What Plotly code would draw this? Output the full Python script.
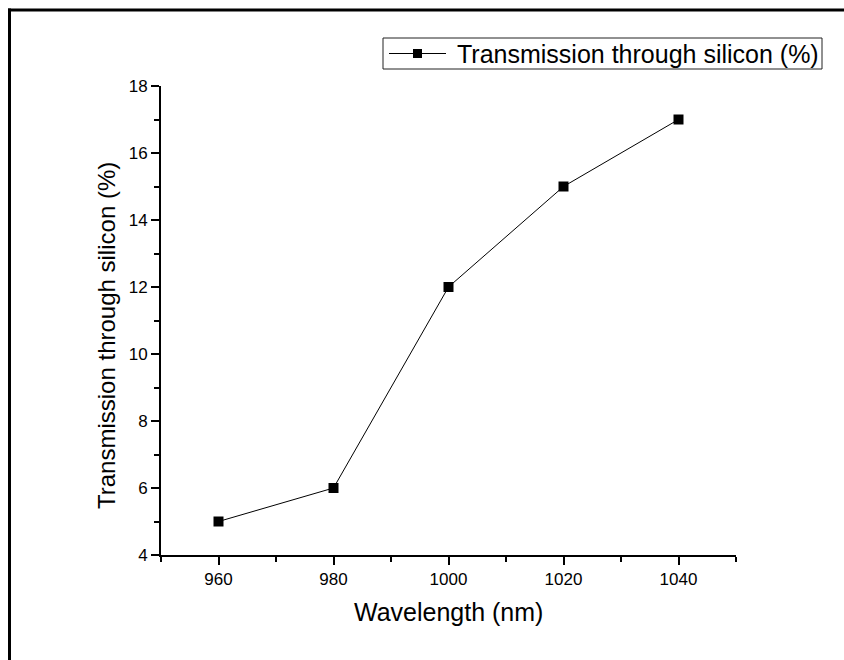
import plotly.graph_objects as go

# Measured transmission of light through a silicon wafer
wavelength_nm = [960, 980, 1000, 1020, 1040]
transmission_pct = [5, 6, 12, 15, 17]
series_name = "Transmission through silicon (%)"
x_title = "Wavelength (nm)"
y_title = "Transmission through silicon (%)"
x_ticks = [960, 980, 1000, 1020, 1040]
y_ticks = [4, 6, 8, 10, 12, 14, 16, 18]

FONT = "Liberation Sans, Arial, sans-serif"

# Plot area geometry (pixels)
W, H = 844, 660
L, R, T, B = 161, 108, 86, 105
pw, ph = W - L - R, H - T - B


def px_x(p):
    return (p - L) / pw


def px_y(p):
    return (H - B - p) / ph


fig = go.Figure()
fig.add_trace(go.Scatter(
    x=wavelength_nm,
    y=transmission_pct,
    mode="lines+markers",
    name=series_name,
    showlegend=False,
    line=dict(color="black", width=1),
    marker=dict(symbol="square", size=10, color="black"),
))

axis_common = dict(
    showgrid=False,
    zeroline=False,
    showline=True,
    linecolor="black",
    linewidth=2,
    ticks="outside",
    ticklen=8,
    tickwidth=1.5,
    tickcolor="black",
    tickfont=dict(family=FONT, size=17, color="black"),
    mirror=False,
)

fig.update_xaxes(
    range=[950, 1050],
    tickmode="array",
    tickvals=x_ticks,
    ticktext=[str(v) for v in x_ticks],
    minor=dict(ticks="outside", ticklen=5, tickwidth=1.5, tickcolor="black",
               tick0=950, dtick=10),
    **axis_common,
)
fig.update_yaxes(
    range=[4, 18],
    tickmode="array",
    tickvals=y_ticks,
    ticktext=[str(v) for v in y_ticks],
    minor=dict(ticks="outside", ticklen=5, tickwidth=1.5, tickcolor="black",
               tick0=5, dtick=2),
    **axis_common,
)

fig.add_annotation(
    text=x_title, xref="paper", yref="paper",
    x=0.5, y=px_y(612), xanchor="center", yanchor="middle",
    showarrow=False, font=dict(family=FONT, size=25, color="black"),
)
fig.add_annotation(
    text=y_title, xref="paper", yref="paper",
    x=px_x(106), y=px_y(336), xanchor="center", yanchor="middle",
    textangle=-90,
    showarrow=False, font=dict(family=FONT, size=24, color="black"),
)

# Frame around the figure (left and top edges)
frame = dict(color="black", width=3)
fig.add_shape(type="line", xref="paper", yref="paper",
              x0=px_x(9.5), x1=px_x(9.5), y0=px_y(8.5), y1=px_y(700), line=frame)
fig.add_shape(type="line", xref="paper", yref="paper",
              x0=px_x(8), x1=px_x(900), y0=px_y(10), y1=px_y(10), line=frame)

# Legend key: framed box with line-marker-line symbol and series label
lg_left, lg_right, lg_top, lg_bottom = 383, 822, 38, 69
lg_mid = (lg_top + lg_bottom) / 2
fig.add_shape(type="rect", xref="paper", yref="paper",
              x0=px_x(lg_left), x1=px_x(lg_right),
              y0=px_y(lg_bottom), y1=px_y(lg_top),
              line=dict(color="#222222", width=1), fillcolor="white")
fig.add_shape(type="line", xref="paper", yref="paper",
              x0=px_x(389), x1=px_x(446), y0=px_y(lg_mid), y1=px_y(lg_mid),
              line=dict(color="black", width=1))
fig.add_shape(type="rect", xref="paper", yref="paper",
              x0=px_x(413), x1=px_x(422), y0=px_y(lg_mid + 4.5), y1=px_y(lg_mid - 4.5),
              line=dict(color="black", width=0), fillcolor="black")
fig.add_annotation(
    text=series_name, xref="paper", yref="paper",
    x=px_x(455), y=px_y(lg_mid + 1), xanchor="left", yanchor="middle",
    showarrow=False, font=dict(family=FONT, size=25, color="black"),
)

fig.update_layout(
    width=W, height=H,
    margin=dict(l=L, r=R, t=T, b=B, pad=0),
    paper_bgcolor="white",
    plot_bgcolor="white",
    showlegend=False,
    font=dict(family=FONT, color="black"),
)

fig.write_html("out.html")
